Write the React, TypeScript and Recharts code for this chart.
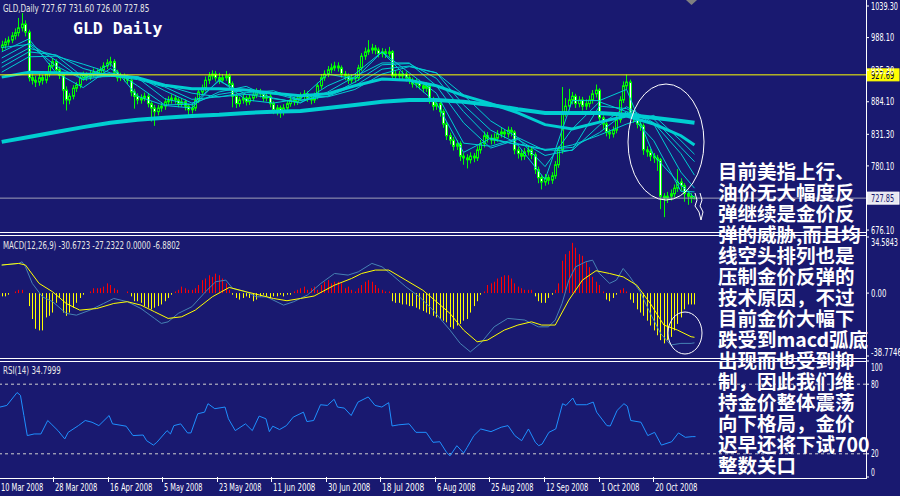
import React from 'react';
import { ComposedChart, Bar, Line, XAxis, YAxis, ReferenceLine } from 'recharts';

// GLD daily, 10 Mar 2008 .. end Oct 2008 (6 bars per week)
const opens = [
  972, 976, 981, 984, 991, 996, 1004, 1010, 997, 923,
  919, 916, 923, 919, 929, 942, 949, 936, 927, 903,
  887, 893, 906, 911, 923, 927, 924, 929, 932, 929,
  936, 942, 947, 949, 932, 923, 926, 923, 919, 900,
  893, 887, 890, 893, 881, 874, 868, 874, 877, 884,
  887, 890, 887, 881, 884, 877, 871, 874, 887, 900,
  906, 919, 926, 929, 923, 919, 923, 926, 913, 893,
  881, 887, 890, 884, 890, 895, 900, 897, 890, 893,
  881, 871, 874, 868, 874, 881, 887, 884, 890, 893,
  897, 890, 887, 893, 910, 923, 929, 936, 939, 942,
  939, 929, 926, 919, 923, 923, 939, 958, 965, 968,
  971, 968, 962, 965, 962, 965, 926, 929, 926, 929,
  923, 919, 913, 916, 910, 906, 910, 887, 877, 881,
  868, 848, 829, 822, 812, 816, 796, 793, 790, 796,
  793, 806, 816, 829, 825, 822, 825, 832, 835, 832,
  838, 835, 806, 800, 796, 803, 806, 798, 774, 761,
  754, 761, 757, 764, 782, 806, 868, 877, 887, 893,
  881, 887, 877, 881, 887, 897, 903, 858, 848, 835,
  832, 838, 855, 887, 910, 916, 864, 858, 848, 845,
  806, 803, 796, 793, 790, 731, 728, 731, 735, 744,
  754, 748, 735, 731, 727.67,
];
const highs = [
  983, 987, 990, 997, 1003, 1020, 1028, 1016, 1001, 930,
  926, 929, 928, 934, 947, 955, 953, 941, 931, 909,
  898, 911, 916, 928, 933, 932, 934, 938, 937, 941,
  948, 953, 957, 953, 936, 931, 930, 928, 923, 905,
  898, 896, 899, 897, 885, 879, 879, 883, 890, 893,
  896, 895, 891, 890, 888, 881, 879, 892, 905, 912,
  925, 932, 935, 934, 931, 929, 934, 930, 917, 897,
  892, 896, 894, 896, 900, 906, 905, 901, 899, 897,
  885, 879, 878, 880, 887, 893, 892, 896, 899, 903,
  901, 895, 899, 915, 929, 935, 942, 946, 949, 948,
  943, 934, 930, 929, 930, 944, 963, 972, 984, 978,
  976, 972, 971, 970, 973, 968, 935, 934, 935, 933,
  928, 923, 922, 920, 914, 916, 913, 892, 887, 886,
  872, 852, 834, 827, 822, 820, 801, 799, 802, 801,
  812, 822, 836, 835, 831, 833, 838, 843, 840, 844,
  843, 838, 811, 806, 809, 812, 810, 802, 779, 766,
  767, 766, 770, 788, 812, 908, 890, 905, 900, 897,
  893, 892, 888, 894, 903, 912, 906, 862, 852, 840,
  844, 861, 893, 917, 928, 920, 870, 862, 853, 849,
  812, 808, 801, 798, 793, 736, 738, 742, 750, 775,
  760, 752, 740, 736, 731.6,
];
const lows = [
  966, 970, 975, 979, 985, 990, 998, 990, 917, 912,
  908, 910, 912, 914, 924, 937, 930, 921, 880, 870,
  880, 888, 900, 906, 918, 918, 919, 924, 923, 924,
  931, 937, 941, 926, 917, 918, 917, 913, 893, 873,
  880, 881, 885, 875, 852, 845, 862, 868, 871, 879,
  881, 881, 875, 876, 870, 862, 865, 869, 882, 895,
  901, 913, 920, 917, 913, 914, 918, 907, 875, 874,
  876, 881, 878, 879, 885, 890, 891, 884, 885, 875,
  864, 862, 858, 862, 869, 876, 878, 879, 885, 888,
  884, 880, 882, 888, 905, 918, 924, 930, 934, 933,
  923, 919, 913, 914, 915, 918, 934, 952, 960, 962,
  961, 956, 956, 955, 957, 920, 920, 920, 921, 917,
  913, 907, 907, 904, 899, 900, 881, 870, 871, 860,
  842, 822, 815, 805, 806, 788, 782, 776, 784, 786,
  788, 800, 810, 818, 815, 816, 819, 826, 825, 826,
  828, 799, 792, 789, 790, 797, 791, 767, 752, 742,
  748, 750, 751, 759, 777, 800, 860, 870, 880, 874,
  875, 870, 871, 875, 881, 891, 851, 840, 828, 824,
  826, 833, 850, 882, 904, 857, 850, 841, 837, 798,
  795, 788, 785, 772, 710, 697, 720, 724, 729, 738,
  740, 722, 717, 720, 726,
];
const closes = [
  976, 981, 984, 991, 996, 1004, 1010, 997, 923, 919,
  916, 923, 919, 929, 942, 949, 936, 927, 903, 887,
  893, 906, 911, 923, 927, 924, 929, 932, 929, 936,
  942, 947, 949, 932, 923, 926, 923, 919, 900, 893,
  887, 890, 893, 881, 874, 868, 874, 877, 884, 887,
  890, 887, 881, 884, 877, 871, 874, 887, 900, 906,
  919, 926, 929, 923, 919, 923, 926, 913, 893, 881,
  887, 890, 884, 890, 895, 900, 897, 890, 893, 881,
  871, 874, 868, 874, 881, 887, 884, 890, 893, 897,
  890, 887, 893, 910, 923, 929, 936, 939, 942, 939,
  929, 926, 919, 923, 923, 939, 958, 965, 968, 971,
  968, 962, 965, 962, 965, 926, 929, 926, 929, 923,
  919, 913, 916, 910, 906, 910, 887, 877, 881, 868,
  848, 829, 822, 812, 816, 796, 793, 790, 796, 793,
  806, 816, 829, 825, 822, 825, 832, 835, 832, 838,
  835, 806, 800, 796, 803, 806, 798, 774, 761, 754,
  761, 757, 764, 782, 806, 868, 877, 887, 893, 881,
  887, 877, 881, 887, 897, 903, 858, 848, 835, 832,
  838, 855, 887, 910, 916, 864, 858, 848, 845, 806,
  803, 796, 793, 790, 731, 728, 731, 735, 744, 754,
  748, 735, 731, 728, 727.85,
];

// moving averages, read at every 8th bar
const maIdx = [0, 8, 16, 24, 32, 40, 48, 56, 64, 72, 80, 88, 96, 104, 112, 120, 128, 136, 144, 152, 160, 168, 176, 184, 192, 200, 204];
const ma1 = [972, 977, 942, 920, 946, 893, 878, 874, 920, 887, 882, 889, 929, 921, 965, 920, 882, 802, 825, 814, 758, 886, 886, 904, 797, 749, 729];
const ma2 = [965, 986, 931, 907, 938, 910, 879, 880, 918, 896, 890, 882, 910, 929, 965, 931, 898, 817, 812, 825, 779, 840, 884, 868, 821, 739, 738];
const ma3 = [955, 979, 951, 920, 927, 923, 889, 879, 900, 909, 889, 883, 900, 925, 947, 947, 910, 850, 809, 823, 797, 806, 877, 873, 848, 770, 744];
const ma4 = [947, 971, 959, 924, 925, 925, 902, 882, 896, 903, 898, 886, 893, 916, 944, 946, 922, 868, 823, 815, 806, 805, 846, 876, 850, 800, 765];
const ma5 = [940, 965, 960, 938, 926, 920, 908, 888, 892, 899, 902, 887, 893, 910, 937, 942, 931, 879, 838, 816, 807, 810, 834, 868, 856, 810, 787];
const ma6 = [932, 957, 958, 945, 931, 922, 911, 898, 892, 896, 898, 894, 892, 904, 929, 941, 931, 895, 853, 826, 805, 814, 830, 848, 862, 821, 799];
const maMid = [924, 932, 931, 929, 928, 923, 911, 905, 905, 903, 898, 894, 897, 910, 921, 919, 910, 894, 881, 866, 847, 840, 851, 861, 848, 829, 814];
const maLong = [819, 827, 835, 843, 850, 855, 858, 861, 863, 866, 868, 869, 874, 879, 884, 887, 887, 884, 879, 872, 866, 866, 866, 863, 858, 853, 850];

const macdHist = [
  -2, -2, -1, 0, 1, 2, 2, 0, -8, -16,
  -22, -23, -23, -15, -14, -12, -6, -3, -12, -14,
  -12, -9, -6, -3, -1, 0, 1, 3, 3, 3,
  4, 6, 5, 3, 2, 0, 0, 1, -2, -5,
  -5, -6, -8, -9, -10, -9, -8, -7, -5, -3,
  -1, 1, 2, 4, 3, 2, 2, 3, 5, 8,
  9, 11, 10, 12, 11, 9, 6, 2, -1, -3,
  -4, -3, -2, -3, -5, -4, -2, -1, -2, -3,
  -2, -2, -1, -2, -1, -1, 1, 2, 3, 4,
  2, 3, 4, 2, 5, 7, 8, 6, 7, 7,
  6, 3, 4, 2, 1, 3, 5, 7, 8, 7,
  5, 3, 2, 1, 1, -5, -6, -6, -7, -7,
  -8, -8, -9, -10, -11, -12, -13, -14, -15, -16,
  -17, -18, -21, -22, -20, -19, -17, -16, -12, -8,
  -5, -1, 1, 5, 6, 7, 9, 10, 11, 11,
  9, 6, 4, 3, 2, 2, 2, -2, -5, -6,
  -6, -3, -1, 2, 6, 20, 24, 26, 31, 28,
  24, 23, 19, 16, 10, 7, 5, 1, -4, -5,
  -3, -1, 2, 3, 1, -4, -6, -10, -12, -14,
  -17, -20, -23, -26, -29, -31, -29, -27, -23, -19,
  -15, -10, -7, -7, -7,
];
const macdIdx = [0, 5, 6, 7, 9, 12, 15, 19, 22, 26, 30, 33, 37, 41, 45, 47, 49, 52, 56, 60, 63, 66, 68, 72, 75, 78, 83, 86, 90, 94, 98, 102, 105, 109, 112, 115, 119, 123, 127, 132, 135, 138, 141, 145, 149, 154, 158, 161, 163, 165, 167, 169, 172, 174, 176, 179, 181, 183, 185, 188, 191, 194, 197, 200, 203, 204];
const macdVal = [17.3, 18.3, 19.3, 16.2, 6, -2.3, -5.3, -12.5, -13.6, -10.5, -6.4, -3.3, -5.3, -9.5, -15.6, -18.7, -17.7, -12.5, -8.4, 0.8, 7, 8, 2.9, 0.8, -2.3, -2.3, -7.4, -5.3, -1.2, 6, 12.1, 11.1, 13.1, 18.3, 16.2, 11.1, 3.9, -2.3, -10.5, -22.8, -31, -36.2, -31, -20.8, -15.6, -16.6, -20.8, -20.8, -16.6, -6.4, 8, 16.2, 19.3, 20.3, 12.1, 6, 8, 15.2, 10, 0.8, -12.5, -24.8, -32, -31, -31, -30.67];
const sigIdx = [0, 5, 7, 11, 15, 19, 23, 28, 33, 37, 41, 45, 49, 53, 57, 62, 67, 72, 76, 80, 84, 88, 92, 98, 103, 106, 110, 114, 119, 124, 128, 132, 136, 140, 143, 148, 152, 156, 159, 163, 167, 171, 175, 179, 183, 187, 191, 195, 199, 203, 204];
const sigVal = [17.3, 18.3, 17.3, 6, 0.8, -6.4, -10.5, -9.5, -6.4, -5.3, -7.4, -11.5, -15.6, -14.6, -10.5, -2.3, 3.5, 0.8, -1.2, -3.3, -4.7, -3.3, -1.8, 4.9, 9, 12.1, 14.2, 14.2, 8, 1.8, -5.3, -12.5, -22.8, -30, -29, -22.8, -19.7, -17.7, -19.7, -19.7, -4.3, 8, 13.8, 12.1, 10, 4.9, -6.4, -19.7, -22.8, -26.9, -27.23];

const rsiIdx = [0, 2, 5, 6, 7, 8, 10, 12, 14, 15, 17, 19, 20, 23, 25, 27, 29, 32, 33, 37, 39, 42, 43, 45, 46, 49, 50, 51, 53, 55, 56, 58, 60, 61, 63, 66, 67, 69, 72, 74, 76, 78, 79, 80, 82, 84, 86, 89, 90, 92, 94, 96, 98, 99, 101, 103, 105, 108, 110, 112, 114, 115, 117, 120, 122, 125, 127, 129, 131, 132, 134, 136, 137, 139, 141, 144, 147, 149, 151, 153, 155, 157, 158, 159, 161, 163, 165, 166, 168, 169, 172, 174, 175, 178, 179, 181, 183, 184, 185, 188, 190, 192, 194, 197, 199, 201, 203, 204];
const rsiVal = [60.3, 61.7, 72.8, 70.4, 53, 35.7, 37.1, 37.1, 48.7, 45.8, 40, 32.8, 38.5, 44.3, 48.7, 47.2, 44.3, 53, 45.8, 43.8, 35.7, 36.2, 31.3, 27.5, 29.9, 40, 37.1, 44.3, 45.8, 38, 38, 54.5, 55.9, 63.2, 58.9, 60.3, 50.2, 40, 45.8, 40, 52.5, 50.2, 39.1, 43.8, 40.9, 44.3, 51.6, 55.9, 47.8, 48.7, 62.3, 61.7, 67, 60.3, 59.4, 53, 64.6, 69, 61.7, 60.3, 64.1, 44, 45, 45.8, 38.5, 38.5, 29.9, 30.4, 21.1, 18.3, 27, 20.6, 25.5, 35.7, 41.4, 39.1, 42.9, 44.3, 35.7, 31.3, 41.4, 30, 27, 28.4, 38.5, 41.4, 63.2, 61.7, 68.1, 62.3, 62.3, 64.6, 55.9, 44.3, 44, 57.4, 63.2, 61, 48.7, 47.2, 35.7, 38.5, 27.5, 30.4, 38, 34.2, 34.8, 34.8];

const dateTicks = [0, 16, 32, 48, 64, 80, 96, 112, 128, 144, 160, 176, 192];
const dateLabels = ['10 Mar 2008', '28 Mar 2008', '16 Apr 2008', '5 May 2008', '23 May 2008', '11 Jun 2008', '30 Jun 2008', '18 Jul 2008', '6 Aug 2008', '25 Aug 2008', '12 Sep 2008', '1 Oct 2008', '20 Oct 2008'];
const priceTicks = [1039.3, 988.1, 935.3, 884.1, 831.3, 780.1, 676.1];
const macdTicks = [34.5843, 0, -38.7746];
const rsiTicks = [100, 80, 20, 0];

const note = [
  '目前美指上行、',
  '油价无大幅度反',
  '弹继续是金价反',
  '弹的威胁,而且均',
  '线空头排列也是',
  '压制金价反弹的',
  '技术原因，不过',
  '目前金价大幅下',
  '跌受到macd弧底',
  '出现而也受到抑',
  '制，因此我们维',
  '持金价整体震荡',
  '向下格局，金价',
  '迟早还将下试700',
  '整数关口',
];

const SLOTS = 255;
const rows: any[] = Array.from({ length: SLOTS }, (_, i) => ({
  i,
  o: opens[i],
  h: highs[i],
  l: lows[i],
  c: closes[i],
  hist: macdHist[i],
}));
maIdx.forEach((idx, k) => {
  Object.assign(rows[idx], {
    m1: ma1[k], m2: ma2[k], m3: ma3[k], m4: ma4[k], m5: ma5[k], m6: ma6[k],
    mid: maMid[k], long: maLong[k],
  });
});
macdIdx.forEach((idx, k) => { rows[idx].macd = macdVal[k]; });
sigIdx.forEach((idx, k) => { rows[idx].sig = sigVal[k]; });
rsiIdx.forEach((idx, k) => { rows[idx].rsi = rsiVal[k]; });

const BG = '#191970';
const FONT = "'DejaVu Sans', sans-serif";
const CYAN = '#00CED1';
const CH = 3.85; // width per character of the narrow MT4 labels

// small narrow label, squeezed to the width the terminal font takes
const Small = ({ x, y, s, fill = '#ffffff', dy }: any) => (
  <text x={x} y={y} dy={dy} fill={fill} fontSize={10.5} fontFamily={FONT}
    textLength={s.length * CH} lengthAdjust="spacingAndGlyphs">{s}</text>
);

const Candle = (p: any) => {
  const d = p.payload;
  if (!d || d.h == null) return null;
  const cx = Math.round(p.x + p.width / 2) + 0.5;
  const k = p.height / (d.h - d.l || 1);
  const top = p.y + (d.h - Math.max(d.o, d.c)) * k;
  const bot = p.y + (d.h - Math.min(d.o, d.c)) * k;
  return (
    <g>
      <line x1={cx} x2={cx} y1={p.y} y2={p.y + p.height} stroke="#00ff00" />
      <rect x={cx - 1} y={top} width={2} height={Math.max(bot - top, 0.6)}
        fill={d.c >= d.o ? BG : '#ffffff'} stroke="#00ff00" />
    </g>
  );
};

const HistLine = (p: any) => {
  const v = p.payload && p.payload.hist;
  if (v == null || v === 0) return null;
  const cx = Math.round(p.x + p.width / 2) + 0.5;
  return <line x1={cx} x2={cx} y1={p.y} y2={p.y + p.height} stroke={v > 0 ? '#ff0000' : '#ffff00'} />;
};

const AxisText = (shift: (v: number) => number, fmt: (v: number) => string) => (p: any) => (
  <Small x={p.x} y={p.y + shift(p.payload.value)} dy="0.35em" s={fmt(p.payload.value)} />
);

const PriceTag = (props: any) => {
  const vb = props.viewBox || {};
  const x = (vb.x || 0) + (vb.width || 0) + 1;
  return (
    <g>
      <rect x={x} y={vb.y - 6} width={32} height={12} fill={props.bg} stroke={props.border} />
      <Small x={x + 4} y={vb.y} dy="0.35em" fill={props.color} s={props.text} />
    </g>
  );
};

const DateTick = (p: any) => {
  const k = dateTicks.indexOf(p.payload.value);
  const x = Math.round(p.x - 1.5) + 0.5;
  return (
    <g>
      <line x1={x} x2={x} y1={p.y - 4} y2={p.y + 1} stroke="#ffffff" />
      <Small x={x + 1.5} y={p.y + 9.5} s={dateLabels[k]} />
    </g>
  );
};

export default function App() {
  return (
    <div style={{ position: 'absolute', left: 0, top: 0, width: 900, height: 496, background: BG, overflow: 'hidden' }}>
      <div style={{ position: 'absolute', left: 0, top: 0 }}>
        <ComposedChart width={900} height={234} data={rows} margin={{ top: 2, right: 0, bottom: 2, left: 0 }} barCategoryGap={0} barGap={0}>
          <XAxis dataKey="i" hide />
          <YAxis orientation="right" width={34} type="number" domain={[672.96, 1045.79]} allowDataOverflow
            ticks={priceTicks} interval={0} axisLine={false} tickLine={{ stroke: '#ffffff' }} tickSize={3} tickMargin={2}
            tick={AxisText(() => 0, (v) => v.toFixed(2))} />
          <Bar dataKey={(d: any) => (d.h == null ? null : [d.l, d.h])} shape={Candle} isAnimationActive={false} />
          <Line dataKey="long" stroke={CYAN} strokeWidth={4} dot={false} connectNulls isAnimationActive={false} />
          <Line dataKey="mid" stroke={CYAN} strokeWidth={3} dot={false} connectNulls isAnimationActive={false} />
          <Line dataKey="m6" stroke={CYAN} strokeWidth={1} dot={false} connectNulls isAnimationActive={false} />
          <Line dataKey="m5" stroke={CYAN} strokeWidth={1} dot={false} connectNulls isAnimationActive={false} />
          <Line dataKey="m4" stroke={CYAN} strokeWidth={1} dot={false} connectNulls isAnimationActive={false} />
          <Line dataKey="m3" stroke={CYAN} strokeWidth={1} dot={false} connectNulls isAnimationActive={false} />
          <Line dataKey="m2" stroke={CYAN} strokeWidth={1} dot={false} connectNulls isAnimationActive={false} />
          <Line dataKey="m1" stroke={CYAN} strokeWidth={1} dot={false} connectNulls isAnimationActive={false} />
          <ReferenceLine y={727.85} stroke="#a0a0b8" label={<PriceTag bg="#e8e8f0" border="#ffffff" color={BG} text="727.85" />} />
          <ReferenceLine y={927.69} stroke="#ffff00" label={<PriceTag bg="#ffff00" border="#ffff00" color="#000040" text="927.69" />} />
        </ComposedChart>
      </div>

      <div style={{ position: 'absolute', left: 0, top: 236 }}>
        <ComposedChart width={900} height={122} data={rows} margin={{ top: 1, right: 0, bottom: 2, left: 0 }} barCategoryGap={0} barGap={0}>
          <XAxis dataKey="i" hide />
          <YAxis orientation="right" width={34} type="number" domain={[-38.7746, 34.5843]} allowDataOverflow
            ticks={macdTicks} interval={0} axisLine={false} tickLine={{ stroke: '#ffffff' }} tickSize={3} tickMargin={2}
            tick={AxisText((v) => (v > 1 ? 5 : v < -1 ? -4 : 0), (v) => (v === 0 ? '0.00' : String(v)))} />
          <Bar dataKey="hist" shape={HistLine} isAnimationActive={false} />
          <Line dataKey="macd" stroke="#4682B4" strokeWidth={1} dot={false} connectNulls isAnimationActive={false} />
          <Line dataKey="sig" stroke="#ffff00" strokeWidth={1} dot={false} connectNulls isAnimationActive={false} />
        </ComposedChart>
      </div>

      <div style={{ position: 'absolute', left: 0, top: 360 }}>
        <ComposedChart width={900} height={136} data={rows} margin={{ top: 1, right: 0, bottom: 0, left: 0 }}>
          <XAxis dataKey="i" height={19} ticks={dateTicks} interval={0} axisLine={false} tickLine={false}
            tickSize={4} tickMargin={0} tick={DateTick} />
          <YAxis orientation="right" width={34} type="number" domain={[0, 100]} allowDataOverflow
            ticks={rsiTicks} interval={0} axisLine={false} tickLine={{ stroke: '#ffffff' }} tickSize={3} tickMargin={2}
            tick={AxisText((v) => (v === 100 ? 6 : v === 0 ? -5 : 0), (v) => String(v))} />
          <ReferenceLine y={80} stroke="#d0d0d0" strokeDasharray="3 3" />
          <ReferenceLine y={20} stroke="#d0d0d0" strokeDasharray="3 3" />
          <Line dataKey="rsi" stroke="#1E90FF" strokeWidth={1} dot={false} connectNulls isAnimationActive={false} />
        </ComposedChart>
      </div>

      <svg width={900} height={496} style={{ position: 'absolute', left: 0, top: 0, pointerEvents: 'none' }}>
        <g stroke="#ffffff" strokeWidth={1} fill="none">
          <line x1={866.5} x2={866.5} y1={0} y2={479} />
          <line x1={0} x2={866} y1={232.5} y2={232.5} />
          <line x1={0} x2={866} y1={235.5} y2={235.5} />
          <line x1={0} x2={866} y1={358.5} y2={358.5} />
          <line x1={0} x2={866} y1={361.5} y2={361.5} />
          <line x1={0} x2={866} y1={478.5} y2={478.5} />
          <ellipse cx={666} cy={142} rx={38} ry={58} />
          <ellipse cx={685} cy={333} rx={17} ry={21} />
          <polyline points="695,193 697,200 695,206 699,212 701,220" />
          <polyline points="700,193 702,200 700,206 703,212 701,220" />
        </g>
        <polygon points="686,0 697,0 691.5,5" fill="#808080" />
        <Small x={3} y={11.5} fill="#e6e6e6" s="GLD,Daily  727.67 731.60 726.00 727.85" />
        <text x={73} y={34} fill="#ffffff" fontSize={16.5} fontWeight="bold" fontFamily="'DejaVu Sans Mono', monospace">GLD Daily</text>
        <Small x={3} y={248.5} fill="#e6e6e6" s="MACD(12,26,9) -30.6723 -27.2322 0.0000 -6.8802" />
        <Small x={3} y={373.5} fill="#e6e6e6" s="RSI(14) 34.7999" />
        {note.map((line, k) => (
          <text key={k} x={718} y={178.5 + k * 21.07} fill="#ffffff" fontSize={19.5} fontWeight="bold"
            fontFamily="'Noto Sans CJK SC', sans-serif">{line}</text>
        ))}
      </svg>
    </div>
  );
}
